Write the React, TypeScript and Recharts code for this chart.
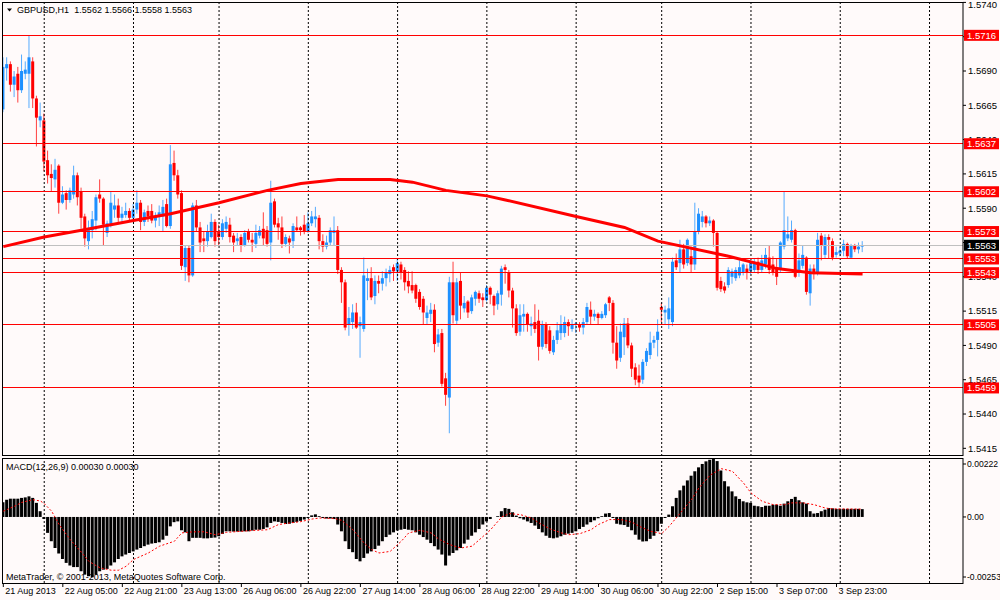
import React from 'react';
import { ComposedChart, Bar, Line, XAxis, YAxis, ReferenceLine } from 'recharts';

// ---------- DATA ----------
const OPEN = [
  1.5662,1.5692,1.5695,1.5680,1.5688,1.5676,1.5688,1.5688,1.5697,1.5670,
  1.5654,1.5654,1.5625,1.5615,1.5611,1.5621,1.5594,1.5601,1.5596,1.5600,
  1.5614,1.5602,1.5584,1.5566,1.5574,1.5581,1.5600,1.5597,1.5572,1.5578,
  1.5589,1.5592,1.5583,1.5585,1.5588,1.5583,1.5589,1.5594,1.5580,1.5588,
  1.5588,1.5581,1.5584,1.5584,1.5593,1.5577,1.5623,1.5614,1.5601,1.5547,
  1.5561,1.5541,1.5592,1.5576,1.5568,1.5566,1.5569,1.5580,1.5573,1.5569,
  1.5575,1.5578,1.5570,1.5566,1.5569,1.5563,1.5573,1.5567,1.5564,1.5570,
  1.5575,1.5574,1.5565,1.5595,1.5579,1.5576,1.5564,1.5568,1.5566,1.5576,
  1.5576,1.5578,1.5573,1.5579,1.5582,1.5583,1.5566,1.5562,1.5565,1.5572,
  1.5574,1.5545,1.5536,1.5505,1.5507,1.5514,1.5504,1.5502,1.5537,1.5539,
  1.5526,1.5537,1.5535,1.5539,1.5542,1.5547,1.5544,1.5549,1.5545,1.5537,
  1.5534,1.5534,1.5529,1.5524,1.5510,1.5513,1.5516,1.5492,1.5499,1.5466,
  1.5452,1.5536,1.5508,1.5537,1.5517,1.5522,1.5515,1.5524,1.5528,1.5525,
  1.5523,1.5532,1.5526,1.5520,1.5527,1.5547,1.5543,1.5530,1.5517,1.5500,
  1.5511,1.5513,1.5504,1.5507,1.5508,1.5489,1.5505,1.5501,1.5485,1.5494,
  1.5499,1.5499,1.5507,1.5502,1.5505,1.5505,1.5503,1.5507,1.5516,1.5511,
  1.5513,1.5510,1.5512,1.5525,1.5521,1.5492,1.5481,1.5496,1.5506,1.5490,
  1.5474,1.5468,1.5465,1.5478,1.5483,1.5492,1.5494,1.5518,1.5514,1.5509,
  1.5507,1.5552,1.5550,1.5560,1.5550,1.5555,1.5549,1.5573,1.5580,1.5584,
  1.5579,1.5581,1.5572,1.5537,1.5533,1.5534,1.5540,1.5539,1.5541,1.5543,
  1.5546,1.5544,1.5545,1.5551,1.5545,1.5549,1.5554,1.5549,1.5547,1.5545,
  1.5562,1.5568,1.5567,1.5574,1.5543,1.5548,1.5554,1.5528,1.5546,1.5543,
  1.5570,1.5556,1.5569,1.5566,1.5556,1.5557,1.5559,1.5564,1.5554,1.5563,
  1.5560,1.5562,
];
const HIGH = [
  1.5700,1.5700,1.5697,1.5690,1.5693,1.5702,1.5697,1.5716,1.5700,1.5672,
  1.5667,1.5659,1.5632,1.5622,1.5626,1.5622,1.5606,1.5603,1.5605,1.5621,
  1.5616,1.5605,1.5586,1.5581,1.5588,1.5600,1.5611,1.5598,1.5581,1.5602,
  1.5600,1.5597,1.5591,1.5594,1.5590,1.5593,1.5603,1.5596,1.5589,1.5592,
  1.5593,1.5587,1.5592,1.5596,1.5597,1.5636,1.5632,1.5618,1.5603,1.5563,
  1.5563,1.5594,1.5596,1.5580,1.5573,1.5578,1.5586,1.5582,1.5578,1.5582,
  1.5584,1.5583,1.5572,1.5572,1.5571,1.5574,1.5575,1.5572,1.5578,1.5577,
  1.5587,1.5577,1.5610,1.5597,1.5583,1.5584,1.5571,1.5570,1.5579,1.5584,
  1.5577,1.5585,1.5587,1.5588,1.5591,1.5585,1.5571,1.5570,1.5576,1.5584,
  1.5577,1.5547,1.5538,1.5518,1.5520,1.5521,1.5511,1.5554,1.5546,1.5547,
  1.5541,1.5541,1.5544,1.5546,1.5548,1.5549,1.5553,1.5551,1.5547,1.5544,
  1.5544,1.5535,1.5531,1.5526,1.5519,1.5521,1.5520,1.5502,1.5502,1.5470,
  1.5540,1.5551,1.5539,1.5543,1.5526,1.5523,1.5527,1.5530,1.5530,1.5528,
  1.5534,1.5533,1.5527,1.5530,1.5548,1.5549,1.5545,1.5532,1.5520,1.5520,
  1.5520,1.5514,1.5511,1.5520,1.5516,1.5508,1.5507,1.5504,1.5497,1.5507,
  1.5512,1.5511,1.5509,1.5509,1.5507,1.5507,1.5510,1.5521,1.5522,1.5516,
  1.5514,1.5515,1.5521,1.5526,1.5523,1.5504,1.5506,1.5510,1.5510,1.5492,
  1.5477,1.5476,1.5480,1.5488,1.5500,1.5497,1.5509,1.5521,1.5519,1.5525,
  1.5554,1.5557,1.5567,1.5564,1.5568,1.5562,1.5594,1.5590,1.5588,1.5585,
  1.5584,1.5582,1.5573,1.5540,1.5536,1.5547,1.5546,1.5547,1.5552,1.5550,
  1.5549,1.5552,1.5553,1.5554,1.5556,1.5561,1.5563,1.5555,1.5553,1.5566,
  1.5602,1.5584,1.5581,1.5575,1.5557,1.5563,1.5555,1.5549,1.5549,1.5572,
  1.5572,1.5571,1.5571,1.5568,1.5562,1.5562,1.5567,1.5565,1.5564,1.5564,
  1.5565,1.5566,
];
const LOW = [
  1.5660,1.5683,1.5675,1.5671,1.5667,1.5674,1.5684,1.5663,1.5663,1.5635,
  1.5649,1.5617,1.5608,1.5602,1.5605,1.5586,1.5593,1.5589,1.5594,1.5597,
  1.5592,1.5575,1.5562,1.5560,1.5568,1.5574,1.5594,1.5563,1.5569,1.5576,
  1.5583,1.5580,1.5580,1.5583,1.5580,1.5582,1.5586,1.5574,1.5577,1.5580,
  1.5579,1.5576,1.5577,1.5573,1.5576,1.5575,1.5610,1.5597,1.5545,1.5537,
  1.5536,1.5540,1.5573,1.5558,1.5558,1.5562,1.5568,1.5562,1.5563,1.5567,
  1.5572,1.5565,1.5558,1.5563,1.5558,1.5562,1.5565,1.5558,1.5561,1.5568,
  1.5563,1.5562,1.5552,1.5576,1.5567,1.5561,1.5562,1.5557,1.5561,1.5573,
  1.5570,1.5571,1.5572,1.5577,1.5576,1.5560,1.5558,1.5560,1.5563,1.5563,
  1.5542,1.5521,1.5501,1.5497,1.5502,1.5502,1.5481,1.5500,1.5523,1.5523,
  1.5520,1.5528,1.5530,1.5533,1.5536,1.5537,1.5537,1.5538,1.5530,1.5528,
  1.5528,1.5521,1.5516,1.5505,1.5505,1.5507,1.5485,1.5489,1.5460,1.5446,
  1.5426,1.5506,1.5505,1.5509,1.5514,1.5510,1.5513,1.5519,1.5521,1.5518,
  1.5522,1.5520,1.5512,1.5516,1.5519,1.5535,1.5525,1.5503,1.5497,1.5497,
  1.5500,1.5500,1.5497,1.5499,1.5479,1.5487,1.5488,1.5484,1.5483,1.5491,
  1.5494,1.5496,1.5497,1.5500,1.5499,1.5500,1.5498,1.5505,1.5505,1.5508,
  1.5505,1.5509,1.5510,1.5515,1.5484,1.5473,1.5478,1.5483,1.5488,1.5467,
  1.5461,1.5459,1.5462,1.5475,1.5480,1.5488,1.5482,1.5507,1.5505,1.5502,
  1.5504,1.5545,1.5543,1.5546,1.5548,1.5543,1.5545,1.5571,1.5576,1.5576,
  1.5577,1.5562,1.5530,1.5529,1.5528,1.5532,1.5535,1.5537,1.5539,1.5541,
  1.5538,1.5542,1.5543,1.5542,1.5543,1.5546,1.5542,1.5541,1.5534,1.5543,
  1.5560,1.5566,1.5565,1.5539,1.5540,1.5546,1.5527,1.5519,1.5538,1.5541,
  1.5552,1.5553,1.5553,1.5552,1.5554,1.5555,1.5555,1.5553,1.5553,1.5558,
  1.5557,1.5558,
];
const CLOSE = [
  1.5693,1.5695,1.5680,1.5686,1.5676,1.5690,1.5691,1.5700,1.5670,1.5656,
  1.5657,1.5624,1.5614,1.5612,1.5618,1.5594,1.5600,1.5596,1.5603,1.5614,
  1.5598,1.5583,1.5568,1.5574,1.5582,1.5598,1.5597,1.5578,1.5579,1.5594,
  1.5592,1.5583,1.5586,1.5588,1.5583,1.5589,1.5594,1.5580,1.5587,1.5584,
  1.5581,1.5584,1.5587,1.5591,1.5577,1.5622,1.5614,1.5600,1.5548,1.5561,
  1.5541,1.5592,1.5576,1.5565,1.5566,1.5573,1.5580,1.5566,1.5569,1.5579,
  1.5580,1.5569,1.5565,1.5568,1.5563,1.5572,1.5567,1.5565,1.5572,1.5574,
  1.5568,1.5564,1.5594,1.5578,1.5576,1.5564,1.5569,1.5565,1.5577,1.5574,
  1.5574,1.5573,1.5579,1.5584,1.5584,1.5566,1.5562,1.5565,1.5574,1.5574,
  1.5545,1.5536,1.5503,1.5510,1.5514,1.5503,1.5507,1.5541,1.5539,1.5525,
  1.5537,1.5535,1.5539,1.5543,1.5545,1.5544,1.5550,1.5543,1.5536,1.5533,
  1.5530,1.5524,1.5518,1.5514,1.5514,1.5516,1.5491,1.5498,1.5462,1.5454,
  1.5536,1.5512,1.5536,1.5519,1.5521,1.5514,1.5525,1.5529,1.5524,1.5523,
  1.5532,1.5527,1.5519,1.5528,1.5546,1.5545,1.5530,1.5517,1.5499,1.5512,
  1.5513,1.5505,1.5506,1.5502,1.5489,1.5505,1.5491,1.5486,1.5494,1.5501,
  1.5505,1.5507,1.5504,1.5505,1.5506,1.5503,1.5507,1.5518,1.5511,1.5513,
  1.5510,1.5513,1.5520,1.5521,1.5492,1.5479,1.5500,1.5506,1.5490,1.5473,
  1.5465,1.5463,1.5478,1.5486,1.5492,1.5494,1.5500,1.5516,1.5516,1.5517,
  1.5551,1.5547,1.5560,1.5549,1.5567,1.5549,1.5573,1.5586,1.5584,1.5579,
  1.5581,1.5572,1.5532,1.5531,1.5530,1.5545,1.5544,1.5545,1.5547,1.5549,
  1.5543,1.5550,1.5551,1.5545,1.5552,1.5556,1.5545,1.5543,1.5540,1.5565,
  1.5574,1.5571,1.5574,1.5540,1.5552,1.5556,1.5529,1.5546,1.5542,1.5567,
  1.5563,1.5569,1.5567,1.5554,1.5558,1.5559,1.5564,1.5555,1.5563,1.5560,
  1.5562,1.5563,
];
const MACD = [
  0.00056,0.00066,0.00070,0.00070,0.00070,0.00073,0.00075,0.00079,0.00073,0.00054,
  0.00022,-0.00008,-0.00061,-0.00093,-0.00119,-0.00140,-0.00161,-0.00176,-0.00186,-0.00192,
  -0.00192,-0.00208,-0.00221,-0.00227,-0.00231,-0.00221,-0.00208,-0.00202,-0.00199,-0.00186,
  -0.00174,-0.00161,-0.00151,-0.00144,-0.00138,-0.00132,-0.00125,-0.00119,-0.00112,-0.00106,
  -0.00102,-0.00100,-0.00097,-0.00087,-0.00072,-0.00036,-0.00020,-0.00017,-0.00051,-0.00059,
  -0.00093,-0.00080,-0.00080,-0.00080,-0.00082,-0.00082,-0.00080,-0.00079,-0.00074,-0.00065,
  -0.00055,-0.00055,-0.00056,-0.00056,-0.00056,-0.00055,-0.00055,-0.00052,-0.00049,-0.00049,
  -0.00046,-0.00040,-0.00023,-0.00017,-0.00019,-0.00023,-0.00027,-0.00026,-0.00023,-0.00019,
  -0.00015,-0.00010,-0.00004,0.00006,0.00010,0.00003,-0.00004,-0.00006,-0.00006,-0.00008,
  -0.00029,-0.00055,-0.00093,-0.00123,-0.00135,-0.00161,-0.00170,-0.00157,-0.00140,-0.00132,
  -0.00123,-0.00110,-0.00093,-0.00077,-0.00068,-0.00059,-0.00052,-0.00049,-0.00046,-0.00049,
  -0.00051,-0.00059,-0.00068,-0.00077,-0.00087,-0.00100,-0.00112,-0.00125,-0.00144,-0.00186,
  -0.00148,-0.00138,-0.00128,-0.00119,-0.00102,-0.00087,-0.00072,-0.00059,-0.00046,-0.00029,
  -0.00017,-0.00008,0.00000,0.00003,0.00022,0.00034,0.00031,0.00018,0.00005,-0.00005,
  -0.00010,-0.00017,-0.00023,-0.00033,-0.00046,-0.00059,-0.00072,-0.00080,-0.00082,-0.00079,
  -0.00074,-0.00068,-0.00064,-0.00061,-0.00055,-0.00046,-0.00038,-0.00029,-0.00020,-0.00013,
  -0.00005,0.00003,0.00013,0.00015,-0.00004,-0.00026,-0.00029,-0.00031,-0.00038,-0.00051,
  -0.00068,-0.00087,-0.00094,-0.00093,-0.00084,-0.00072,-0.00055,-0.00026,-0.00004,0.00009,
  0.00041,0.00073,0.00102,0.00120,0.00140,0.00158,0.00175,0.00190,0.00203,0.00213,
  0.00219,0.00222,0.00214,0.00178,0.00137,0.00117,0.00098,0.00079,0.00069,0.00060,
  0.00056,0.00054,0.00043,0.00041,0.00038,0.00043,0.00043,0.00047,0.00047,0.00043,
  0.00051,0.00060,0.00069,0.00077,0.00064,0.00056,0.00051,0.00022,0.00013,0.00015,
  0.00022,0.00028,0.00034,0.00033,0.00031,0.00031,0.00031,0.00031,0.00031,0.00031,
  0.00031,0.00030,
];
// moving average read at selected bars
const MA_BARS = [0, 11, 21, 35, 45, 58, 71, 80, 90, 104, 110, 119, 130, 135, 154, 167, 176, 195, 208, 217, 231];
const MA_VALUES = [1.5562, 1.5569, 1.5574, 1.5581, 1.5586, 1.5594, 1.5603, 1.5608, 1.5611, 1.5611, 1.5609, 1.5603, 1.5599, 1.5596, 1.5584, 1.5576, 1.5566, 1.5555, 1.5546, 1.5543, 1.5542];
// MACD signal line read at selected bars
const SIGNAL_BARS = [0,3,5,8,10,11,13,15,18,21,23,26,29,31,33,35,39,42,46,48,51,54,57,60,64,67,71,74,77,80,83,85,89,91,94,97,99,101,104,107,109,112,115,117,120,123,126,128,131,134,136,139,142,144,147,150,152,155,158,160,163,166,169,171,174,177,179,182,185,187,190,193,196,199,201,204,207,210,212,215,218,221,223,231];
const SIGNAL_VALUES = [0.00022,0.00041,0.00056,0.00066,0.00061,0.00051,0.00022,-0.00029,-0.00087,-0.00135,-0.00170,-0.00195,-0.00204,-0.00204,-0.00189,-0.00163,-0.00138,-0.00112,-0.00093,-0.00061,-0.00057,-0.00057,-0.00068,-0.00059,-0.00055,-0.00052,-0.00049,-0.00029,-0.00023,-0.00018,-0.00008,-0.00004,-0.00006,-0.00013,-0.00049,-0.00100,-0.00125,-0.00138,-0.00132,-0.00093,-0.00061,-0.00051,-0.00061,-0.00084,-0.00106,-0.00119,-0.00112,-0.00087,-0.00049,0.00000,0.00013,0.00009,-0.00004,-0.00023,-0.00046,-0.00061,-0.00068,-0.00064,-0.00049,-0.00029,-0.00010,-0.00010,-0.00020,-0.00036,-0.00055,-0.00064,-0.00036,0.00015,0.00066,0.00111,0.00160,0.00185,0.00175,0.00130,0.00092,0.00060,0.00047,0.00047,0.00054,0.00054,0.00047,0.00034,0.00031,0.00030];

const LEVELS = [1.5716, 1.5637, 1.5602, 1.5573, 1.5553, 1.5543, 1.5505, 1.5459];
const CURRENT_PRICE = 1.5563;
const PRICE_TICKS = [1.5740, 1.5715, 1.5690, 1.5665, 1.5640, 1.5615, 1.5590, 1.5565, 1.5540, 1.5515, 1.5490, 1.5465, 1.5440, 1.5415];
const MACD_TICKS = [0.00222, 0, -0.00253];
const TIME_TICK_BARS = [0, 16, 32, 48, 64, 80, 96, 112, 128, 144, 160, 176, 192, 208, 224];
const TIME_TICK_LABELS = ['21 Aug 2013', '22 Aug 05:00', '22 Aug 21:00', '23 Aug 13:00', '26 Aug 06:00', '26 Aug 22:00', '27 Aug 14:00', '28 Aug 06:00', '28 Aug 22:00', '29 Aug 14:00', '30 Aug 06:00', '30 Aug 22:00', '2 Sep 15:00', '3 Sep 07:00', '3 Sep 23:00'];
const DAY_SEPARATORS = [11, 35, 58, 82, 106, 130, 154, 177, 201, 225, 249];

const TITLE_SYMBOL = 'GBPUSD,H1';
const TITLE_QUOTE = '1.5562 1.5566 1.5558 1.5563';
const MACD_TITLE = 'MACD(12,26,9) 0.00030 0.00030';
const COPYRIGHT = 'MetaTrader, © 2001-2013, MetaQuotes Software Corp.';

// ---------- STYLE ----------
const FONT = "'Liberation Sans', Arial, sans-serif";
const BG = '#FFFAFA';
const BULL = '#1E90FF';
const BEAR = '#FF0000';
const X_DOMAIN: [number, number] = [-0.35, 258];
const PRICE_DOMAIN: [number, number] = [1.54094, 1.57403];
const MACD_DOMAIN: [number, number] = [-0.00253, 0.00222];

const maMap = new Map<number, number>();
MA_BARS.forEach((b, k) => maMap.set(b, MA_VALUES[k]));
const sigMap = new Map<number, number>();
SIGNAL_BARS.forEach((b, k) => sigMap.set(b, SIGNAL_VALUES[k]));

const rows = OPEN.map((o, i) => ({
  i,
  open: o,
  high: HIGH[i],
  low: LOW[i],
  close: CLOSE[i],
  range: [LOW[i], HIGH[i]],
  macd: MACD[i],
  ma: maMap.has(i) ? maMap.get(i) : null,
  signal: sigMap.has(i) ? sigMap.get(i) : null,
}));

function Candle(props: any) {
  const { x, y, width, height, payload } = props;
  if (!payload || x == null || y == null) return null;
  const top = Math.min(y, y + height);
  const h = Math.abs(height);
  const { open, close, high, low } = payload;
  const span = high - low;
  const py = (v: number) => (span > 0 ? top + ((high - v) / span) * h : top);
  const up = close >= open;
  const color = up ? BULL : BEAR;
  const cx = x + width / 2;
  const yo = py(open);
  const yc = py(close);
  const bt = Math.min(yo, yc);
  const bh = Math.max(1, Math.abs(yo - yc));
  return (
    <g>
      <line x1={cx} x2={cx} y1={top} y2={top + h} stroke={color} strokeWidth={1} strokeOpacity={0.75} />
      <rect x={cx - 1.5} y={bt} width={3} height={bh} fill={color} />
    </g>
  );
}

function PriceTick(props: any) {
  const { x, y, payload } = props;
  const v = payload.value as number;
  const label = v.toFixed(4);
  if (LEVELS.includes(v) || v === CURRENT_PRICE) {
    const fill = v === CURRENT_PRICE ? '#000000' : '#FF0000';
    return (
      <g>
        <rect x={x + 1} y={y - 5.5} width={35} height={11} fill={fill} />
        <text x={x + 4} y={y} dy={3.3} fontSize={9.5} fontFamily={FONT} fill="#FFFFFF">{label}</text>
      </g>
    );
  }
  const ty = Math.max(y, 5);
  return (
    <g>
      <line x1={x} x2={x + 3} y1={y} y2={y} stroke="#000" />
      <text x={x + 5} y={ty} dy={3.3} fontSize={9.5} fontFamily={FONT} fill="#000">{label}</text>
    </g>
  );
}

function MacdTick(props: any) {
  const { x, y, payload } = props;
  const v = payload.value as number;
  const label = v === 0 ? '0.00' : v.toFixed(5);
  const off = v > 0 ? 5 : v < 0 ? -6 : 0;
  return (
    <g>
      <line x1={x} x2={x + 3} y1={y + off} y2={y + off} stroke="#000" />
      <text x={x + 4} y={y + off} dy={3.2} fontSize={8.6} fontFamily={FONT} fill="#000">{label}</text>
    </g>
  );
}

function TimeTick(props: any) {
  const { x, y, payload } = props;
  const idx = TIME_TICK_BARS.indexOf(payload.value);
  return (
    <g>
      <line x1={x} x2={x} y1={y} y2={y + 4} stroke="#000" />
      <text x={x + 2} y={y + 11} fontSize={9} fontFamily={FONT} fill="#000">{idx >= 0 ? TIME_TICK_LABELS[idx] : ''}</text>
    </g>
  );
}

export default function App() {
  return (
    <div style={{ position: 'fixed', left: 0, top: 0, width: 1000, height: 600, background: BG, overflow: 'hidden' }}>
      <div style={{ position: 'absolute', left: 0, top: 0 }}>
        <ComposedChart width={1000} height={456} data={rows} margin={{ top: 2, right: 0, bottom: 0, left: 2 }}>
          <XAxis dataKey="i" type="number" domain={X_DOMAIN} hide allowDataOverflow />
          <YAxis
            orientation="right"
            width={37}
            domain={PRICE_DOMAIN}
            allowDataOverflow
            ticks={[...PRICE_TICKS, ...LEVELS, CURRENT_PRICE]}
            interval={0}
            tick={(p: any) => <PriceTick {...p} />}
            tickSize={0}
            tickMargin={0}
            axisLine={false}
            tickLine={false}
          />
          {DAY_SEPARATORS.map((d) => (
            <ReferenceLine key={'d' + d} x={d} stroke="#000" strokeDasharray="2 2" />
          ))}
          <ReferenceLine y={CURRENT_PRICE} stroke="#C0C0C0" shapeRendering="crispEdges" />
          {LEVELS.map((l) => (
            <ReferenceLine key={'l' + l} y={l} stroke="#FF0000" strokeWidth={1} shapeRendering="crispEdges" />
          ))}
          <Bar dataKey="range" barSize={3} shape={(p: any) => <Candle {...p} />} isAnimationActive={false} />
          <Line dataKey="ma" type="linear" stroke="#FF0000" strokeWidth={3} dot={false} connectNulls isAnimationActive={false} />
        </ComposedChart>
      </div>
      <div style={{ position: 'absolute', left: 0, top: 459 }}>
        <ComposedChart width={1000} height={141} data={rows} margin={{ top: 0, right: 0, bottom: 0, left: 2 }}>
          <XAxis
            dataKey="i"
            type="number"
            domain={X_DOMAIN}
            allowDataOverflow
            ticks={TIME_TICK_BARS}
            interval={0}
            tick={(p: any) => <TimeTick {...p} />}
            tickSize={0}
            tickMargin={0}
            axisLine={false}
            tickLine={false}
            height={17}
          />
          <YAxis
            orientation="right"
            width={37}
            domain={MACD_DOMAIN}
            allowDataOverflow
            ticks={MACD_TICKS}
            interval={0}
            tick={(p: any) => <MacdTick {...p} />}
            tickSize={0}
            tickMargin={0}
            axisLine={false}
            tickLine={false}
          />
          {DAY_SEPARATORS.map((d) => (
            <ReferenceLine key={'m' + d} x={d} stroke="#000" strokeDasharray="2 2" />
          ))}
          <Bar dataKey="macd" fill="#000000" barSize={3} isAnimationActive={false} />
          <Line dataKey="signal" type="linear" stroke="#FF0000" strokeWidth={1} strokeDasharray="2 2" dot={false} connectNulls isAnimationActive={false} />
        </ComposedChart>
      </div>
      <svg width={1000} height={600} style={{ position: 'absolute', left: 0, top: 0, pointerEvents: 'none' }}>
        <rect x={2.5} y={2.5} width={960.5} height={453} fill="none" stroke="#000" />
        <rect x={2.5} y={458.5} width={960.5} height={125} fill="none" stroke="#000" />
        <polygon points="7,8.5 12,8.5 9.5,11.5" fill="#000" />
        <text x={17} y={13} fontSize={9} fontFamily={FONT} fill="#000">
          {TITLE_SYMBOL}
          <tspan dx={6}>{TITLE_QUOTE}</tspan>
        </text>
        <text x={6} y={470} fontSize={9} fontFamily={FONT} fill="#000">{MACD_TITLE}</text>
        <text x={6} y={580} fontSize={9} fontFamily={FONT} fill="#000">{COPYRIGHT}</text>
      </svg>
    </div>
  );
}
